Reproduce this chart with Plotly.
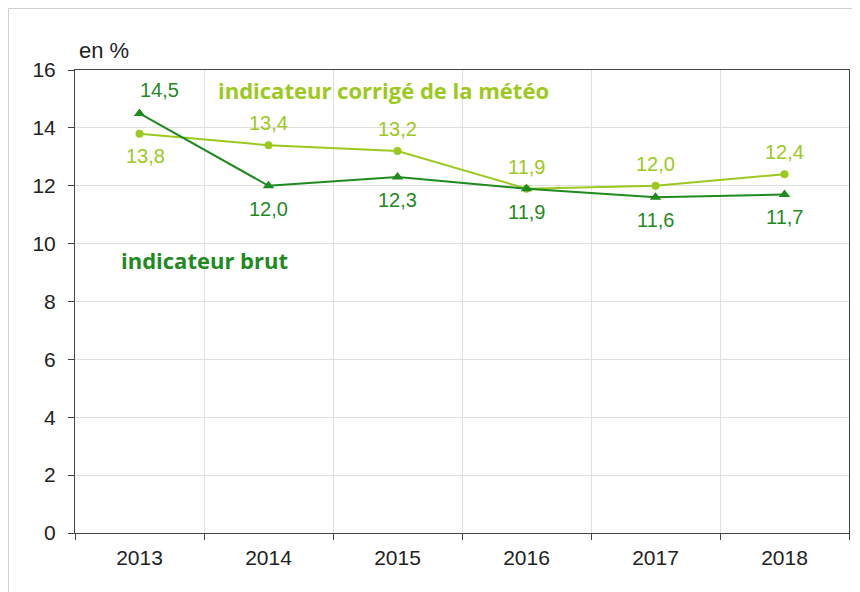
import plotly.graph_objects as go

annees = ['2013', '2014', '2015', '2016', '2017', '2018']
brut = [14.5, 12.0, 12.3, 11.9, 11.6, 11.7]
corrige = [13.8, 13.4, 13.2, 11.9, 12.0, 12.4]
# position des étiquettes : +1 au-dessus, -1 en dessous
pos_brut = [1, -1, -1, -1, -1, -1]
pos_corrige = [-1, 1, 1, 1, 1, 1]
# petit décalage horizontal des étiquettes de 2013
dx_brut = [20, 0, 0, 0, 0, 0]
dx_corrige = [6, 0, 0, 0, 0, 0]

vert_fonce = '#1f8a1f'
vert_clair = '#9cc920'

fig = go.Figure()
fig.add_trace(go.Scatter(
    x=annees, y=corrige, mode='lines+markers',
    line=dict(color=vert_clair, width=2),
    marker=dict(symbol='circle', size=8, color=vert_clair),
    hoverinfo='skip'
))
fig.add_trace(go.Scatter(
    x=annees, y=brut, mode='lines+markers',
    line=dict(color=vert_fonce, width=2),
    marker=dict(symbol='triangle-up', size=10, color=vert_fonce),
    hoverinfo='skip'
))

annots = []
# x en indice de catégorie (les libellés numériques seraient lus comme des indices)
for i, (v, p, dx) in enumerate(zip(brut, pos_brut, dx_brut)):
    annots.append(dict(x=i, y=v, text=f'{v:.1f}'.replace('.', ','), showarrow=False,
                       yshift=23 * p, xshift=dx, font=dict(color=vert_fonce, size=20)))
for i, (v, p, dx) in enumerate(zip(corrige, pos_corrige, dx_corrige)):
    annots.append(dict(x=i, y=v, text=f'{v:.1f}'.replace('.', ','), showarrow=False,
                       yshift=22 * p, xshift=dx, font=dict(color=vert_clair, size=20)))

annots.append(dict(x=0.398, y=0.957, xref='paper', yref='paper', showarrow=False,
                   xanchor='center', yanchor='middle',
                   text='<b>indicateur corrigé de la météo</b>',
                   font=dict(color=vert_clair, size=22, family='Open Sans')))
annots.append(dict(x=0.167, y=0.59, xref='paper', yref='paper', showarrow=False,
                   xanchor='center', yanchor='middle',
                   text='<b>indicateur brut</b>',
                   font=dict(color=vert_fonce, size=22, family='Open Sans')))
annots.append(dict(x=0.003, y=1.043, xref='paper', yref='paper', showarrow=False,
                   xanchor='left', yanchor='middle', text='en %',
                   font=dict(color='#222', size=22)))

fig.update_layout(
    width=852, height=584,
    margin=dict(l=67, r=11, t=62, b=59),
    paper_bgcolor='white', plot_bgcolor='white',
    font=dict(family='Liberation Sans, Arial', size=20, color='#222'),
    showlegend=False,
    annotations=annots,
    shapes=[dict(type='rect', xref='paper', yref='paper',
                 x0=-66.5 / 774, x1=1.2, y0=-0.3, y1=1 + 61.5 / 463,
                 line=dict(color='#d0d0d0', width=1), layer='below')]
)
fig.update_xaxes(
    type='category', range=[-0.5, 5.5], tickson='boundaries', ticks='outside', ticklen=6,
    tickangle=0, tickcolor='#444', ticklabelstandoff=6,
    showgrid=True, gridcolor='#e0e0e0', gridwidth=1,
    showline=True, linecolor='#444', linewidth=1, mirror=True,
    tickfont=dict(size=21, color='#222')
)
fig.update_yaxes(
    range=[0, 16], dtick=2, ticks='outside', ticklen=6, tickcolor='#444',
    ticklabelstandoff=8,
    showgrid=True, gridcolor='#e0e0e0', gridwidth=1,
    showline=True, linecolor='#444', linewidth=1, mirror=True,
    zeroline=False, tickfont=dict(size=21, color='#222')
)

fig.write_html('out.html')
